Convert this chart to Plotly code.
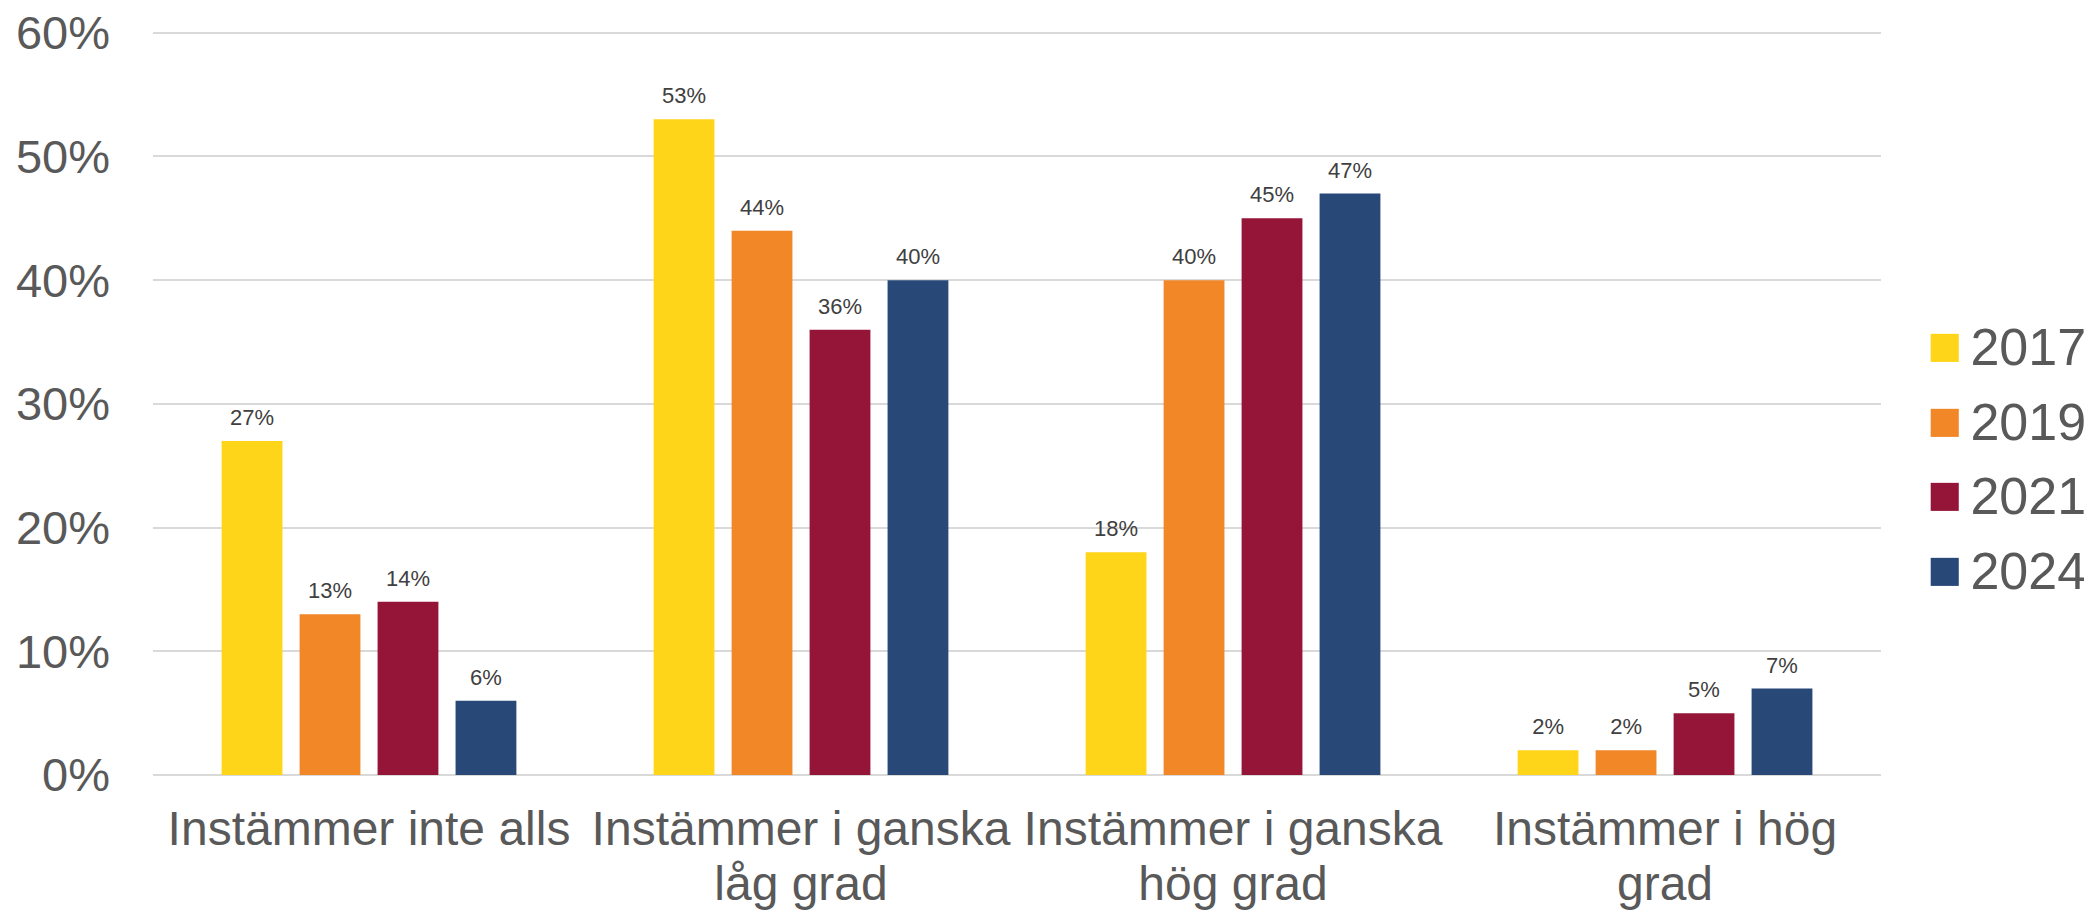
import plotly.graph_objects as go

categories = ["Instämmer inte alls", "Instämmer i ganska låg grad",
              "Instämmer i ganska hög grad", "Instämmer i hög grad"]
label_line1 = ["Instämmer inte alls", "Instämmer i ganska",
               "Instämmer i ganska", "Instämmer i hög"]
label_line2 = ["", "låg grad", "hög grad", "grad"]
years = ["2017", "2019", "2021", "2024"]
v2017 = [0.27, 0.53, 0.18, 0.02]
v2019 = [0.13, 0.44, 0.40, 0.02]
v2021 = [0.14, 0.36, 0.45, 0.05]
v2024 = [0.06, 0.40, 0.47, 0.07]
series = [v2017, v2019, v2021, v2024]
colors = ["#FED518", "#F18727", "#951539", "#284878"]

FONT = "Liberation Sans, Arial"
fig = go.Figure()
for name, vals, col in zip(years, series, colors):
    fig.add_trace(go.Bar(
        x=categories, y=vals, name=name, marker_color=col,
        marker_line_width=0, offsetgroup=name, showlegend=False,
        hoverinfo="skip",
    ))
for name, vals, col in zip(years, series, colors):
    fig.add_trace(go.Scatter(
        x=categories, y=vals, name=name, offsetgroup=name,
        mode="markers+text", marker=dict(size=15, opacity=0, color=col),
        text=[f"{round(v*100)}%" for v in vals], textposition="top center",
        textfont=dict(size=22, color="#404040", family=FONT),
        showlegend=False, cliponaxis=False, hoverinfo="skip",
    ))
for name, col in zip(years, colors):
    fig.add_trace(go.Scatter(
        x=[None], y=[None], offsetgroup=name, mode="markers",
        name=(f"<span style='color:{col};font-size:58px'>■</span>"
              f"<span style='font-size:30px'> </span>{name}"),
        marker=dict(size=0, opacity=0, color="rgba(0,0,0,0)"),
        legendgroup=name, showlegend=True,
    ))
# carrier trace for the second line of the category labels
fig.add_trace(go.Scatter(
    x=list(range(len(categories))), y=[None] * len(categories),
    xaxis="x2", mode="markers", showlegend=False, hoverinfo="skip",
))

fig.update_layout(
    width=2084, height=904,
    paper_bgcolor="white", plot_bgcolor="white",
    margin=dict(l=145, r=0, t=21, b=137),
    barmode="group", bargap=0.278, bargroupgap=0.22,
    scattermode="group", scattergap=0.278,
    font=dict(family=FONT, color="#595959"),
    legend=dict(x=1.0, y=0.426, xanchor="right", yanchor="middle",
                font=dict(size=52, color="#595959"), tracegroupgap=4,
                itemwidth=30),
    showlegend=True,
    xaxis=dict(domain=[0, 0.8912], showline=False,
               tickfont=dict(size=48, color="#595959"),
               tickvals=categories, ticktext=label_line1,
               ticklabelstandoff=21, tickangle=0, automargin=False,
               ticklabeloverflow="allow"),
    xaxis2=dict(overlaying="x", anchor="y", side="bottom",
                range=[-0.5, len(categories) - 0.5],
                tickvals=list(range(len(categories))), ticktext=label_line2,
                showgrid=False, zeroline=False, showline=False,
                tickfont=dict(size=48, color="#595959"), tickangle=0,
                ticklabelstandoff=76, ticklabeloverflow="allow",
                automargin=False, fixedrange=True),
)
fig.update_yaxes(range=[0, 0.603], dtick=0.1, tickformat=".0%",
                 showgrid=True, gridcolor="#d9d9d9", gridwidth=2,
                 zeroline=True, zerolinecolor="#d9d9d9", zerolinewidth=2,
                 showline=False, tickfont=dict(size=47, color="#595959"),
                 ticklabelstandoff=42, automargin=False,
                 ticklabeloverflow="allow")

fig.write_html("out.html")
